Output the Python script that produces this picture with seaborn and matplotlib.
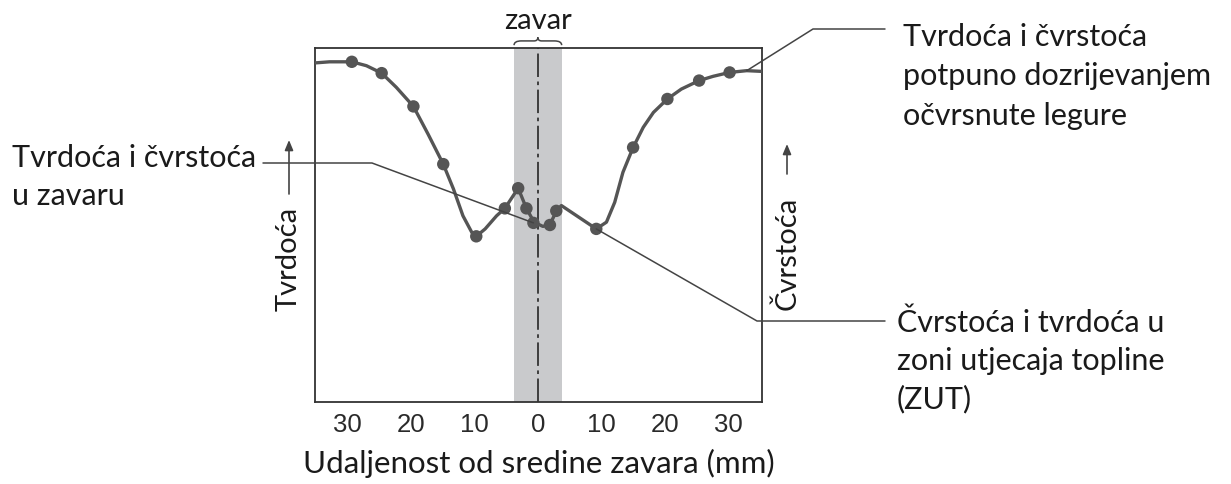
import numpy as np
import pandas as pd
import seaborn as sns
import matplotlib.pyplot as plt
from matplotlib.lines import Line2D
from matplotlib.path import Path
from matplotlib.patches import PathPatch, FancyArrowPatch
import matplotlib.transforms as mtransforms

# traced curve (distance from weld centre in mm, relative hardness)
curve_x = [-35.0, -32.8, -29.3, -27.0, -24.6, -22.3, -19.6, -17.3, -14.9,
           -13.3, -11.8, -10.4, -9.7, -8.3, -6.5, -5.2, -3.1, -1.8, -0.6,
           0.8, 1.9, 2.9, 3.7, 9.2, 10.8, 12.1, 13.4, 15.0, 16.6, 18.2, 20.4,
           22.6, 25.4, 27.6, 30.2, 32.9, 35.2]
curve_y = [95.8, 96.1, 96.1, 95.0, 92.9, 88.9, 83.5, 75.7, 67.2,
           60.2, 52.6, 47.9, 46.8, 48.9, 52.6, 54.7, 60.4, 54.7, 50.8,
           49.6, 50.2, 53.8, 55.5, 48.9, 50.8, 56.4, 64.9, 71.9, 77.6, 81.8, 85.6,
           88.4, 90.8, 92.0, 93.1, 93.6, 93.4]

# measured points
pts_x = [-29.3, -24.6, -19.6, -14.9, -9.7, -5.2, -3.1, -1.8, -0.7, 1.9, 2.9,
         9.2, 15.0, 20.4, 25.4, 30.2]
pts_y = [96.1, 92.9, 83.5, 67.2, 46.8, 54.7, 60.4, 54.7, 50.6, 50.0, 54.0,
         48.9, 71.9, 85.6, 90.8, 93.1]

tick_pos = [-30, -20, -10, 0, 10, 20, 30]
tick_lbl = ["30", "20", "10", "0", "10", "20", "30"]
weld_half = 3.75

W, H = 1231, 485

sns.set_style("white")
plt.rcParams["font.family"] = ["Lato", "DejaVu Sans"]

fig = plt.figure(figsize=(W / 100, H / 100), dpi=100)
ax = fig.add_axes([315 / W, 1 - 403 / H, (762 - 315) / W, (403 - 49) / H])

ink = "#555555"
ax.axvspan(-weld_half, weld_half, color="#c9cacc", lw=0, zorder=0)
ax.axvline(0, color="#333333", lw=1.3, ls=(0, (13, 2.5, 2, 2.5)), zorder=1)

df_curve = pd.DataFrame({"x": curve_x, "y": curve_y})
df_pts = pd.DataFrame({"x": pts_x, "y": pts_y})
sns.lineplot(data=df_curve, x="x", y="y", ax=ax, color=ink, lw=2.4,
             sort=False, zorder=3, solid_joinstyle="round")
sns.scatterplot(data=df_pts, x="x", y="y", ax=ax, color=ink, s=80,
                edgecolor="none", zorder=4)

ax.set_xlim(-35.1, 35.3)
ax.set_ylim(0, 100)
ax.set_xticks(tick_pos)
ax.set_xticklabels(tick_lbl, family="Liberation Sans", fontsize=18.5,
                   color="#2a2a2a")
ax.set_yticks([])
ax.tick_params(axis="x", direction="in", length=8, width=1.3, color="#333333",
               pad=7)
ax.set_xlabel("")
ax.set_ylabel("")
for s in ax.spines.values():
    s.set_color("#333333")
    s.set_linewidth(1.3)


def fp(x, y):
    # figure pixel (from top-left) -> figure fraction
    return (x / W, 1 - y / H)


def dp(x, y):
    return fig.transFigure.inverted().transform(ax.transData.transform((x, y)))


def leader(p0, p1, p2):
    xs = [p0[0], p1[0], p2[0]]
    ys = [p0[1], p1[1], p2[1]]
    fig.add_artist(Line2D(xs, ys, transform=fig.transFigure, color="#444444",
                          lw=1.1))


txt_kw = dict(fontsize=22, color="#1a1a1a")

# weld annotation (left)
leader(fp(263, 164), fp(372, 164), dp(pts_x[8], pts_y[8]))
fig.text(12 / W, 1 - 144 / H, "Tvrdoća i čvrstoća\nu zavaru", va="top",
         ha="left", linespacing=1.44, **txt_kw)

# base metal annotation (top right)
leader(fp(885, 30), fp(813, 30), dp(32.9, 93.6))
fig.text(903 / W, 1 - 23 / H,
         "Tvrdoća i čvrstoća\npotpuno dozrijevanjem\nočvrsnute legure",
         va="top", ha="left", linespacing=1.49, **txt_kw)

# HAZ annotation (bottom right)
leader(fp(885, 322), fp(757, 322), dp(pts_x[11], pts_y[11]))
fig.text(897 / W, 1 - 309 / H,
         "Čvrstoća i tvrdoća u\nzoni utjecaja topline\n(ZUT)",
         va="top", ha="left", linespacing=1.41, **txt_kw)

# axis labels with arrows
fig.text(289 / W, 1 - 259 / H, "Tvrdoća", rotation=90, ha="center",
         va="center", fontsize=21, color="#1a1a1a")
fig.text(787 / W, 1 - 253 / H, "Čvrstoća", rotation=90, ha="center",
         va="center", fontsize=21, color="#1a1a1a")
for x0, y0, y1 in [(289, 195, 141), (787, 175, 145)]:
    fig.add_artist(FancyArrowPatch(
        fp(x0, y0), fp(x0, y1), transform=fig.transFigure,
        arrowstyle="-|>,head_length=6,head_width=2.5", color="#444444",
        lw=1.2, shrinkA=0, shrinkB=0))

fig.text(539 / W, 1 - 463 / H, "Udaljenost od sredine zavara (mm)",
         ha="center", va="center", fontsize=22.5, color="#1a1a1a")

# weld brace and label
bt = mtransforms.blended_transform_factory(ax.transData, ax.transAxes)
verts = [(-weld_half, 1.008), (-weld_half, 1.02), (-2.6, 1.02),
         (-0.6, 1.02), (0, 1.02), (0, 1.03),
         (0, 1.02), (0.6, 1.02), (2.6, 1.02),
         (weld_half, 1.02), (weld_half, 1.008)]
codes = [Path.MOVETO, Path.CURVE3, Path.CURVE3, Path.LINETO, Path.CURVE3,
         Path.CURVE3, Path.CURVE3, Path.CURVE3, Path.LINETO, Path.CURVE3,
         Path.CURVE3]
ax.add_patch(PathPatch(Path(verts, codes), transform=bt, fill=False,
                       color="#444444", lw=1.1, clip_on=False))
fig.text(538 / W, 1 - 21 / H, "zavar", ha="center", va="center",
         fontsize=21, color="#1a1a1a")

fig.savefig("out.png", dpi=100)
